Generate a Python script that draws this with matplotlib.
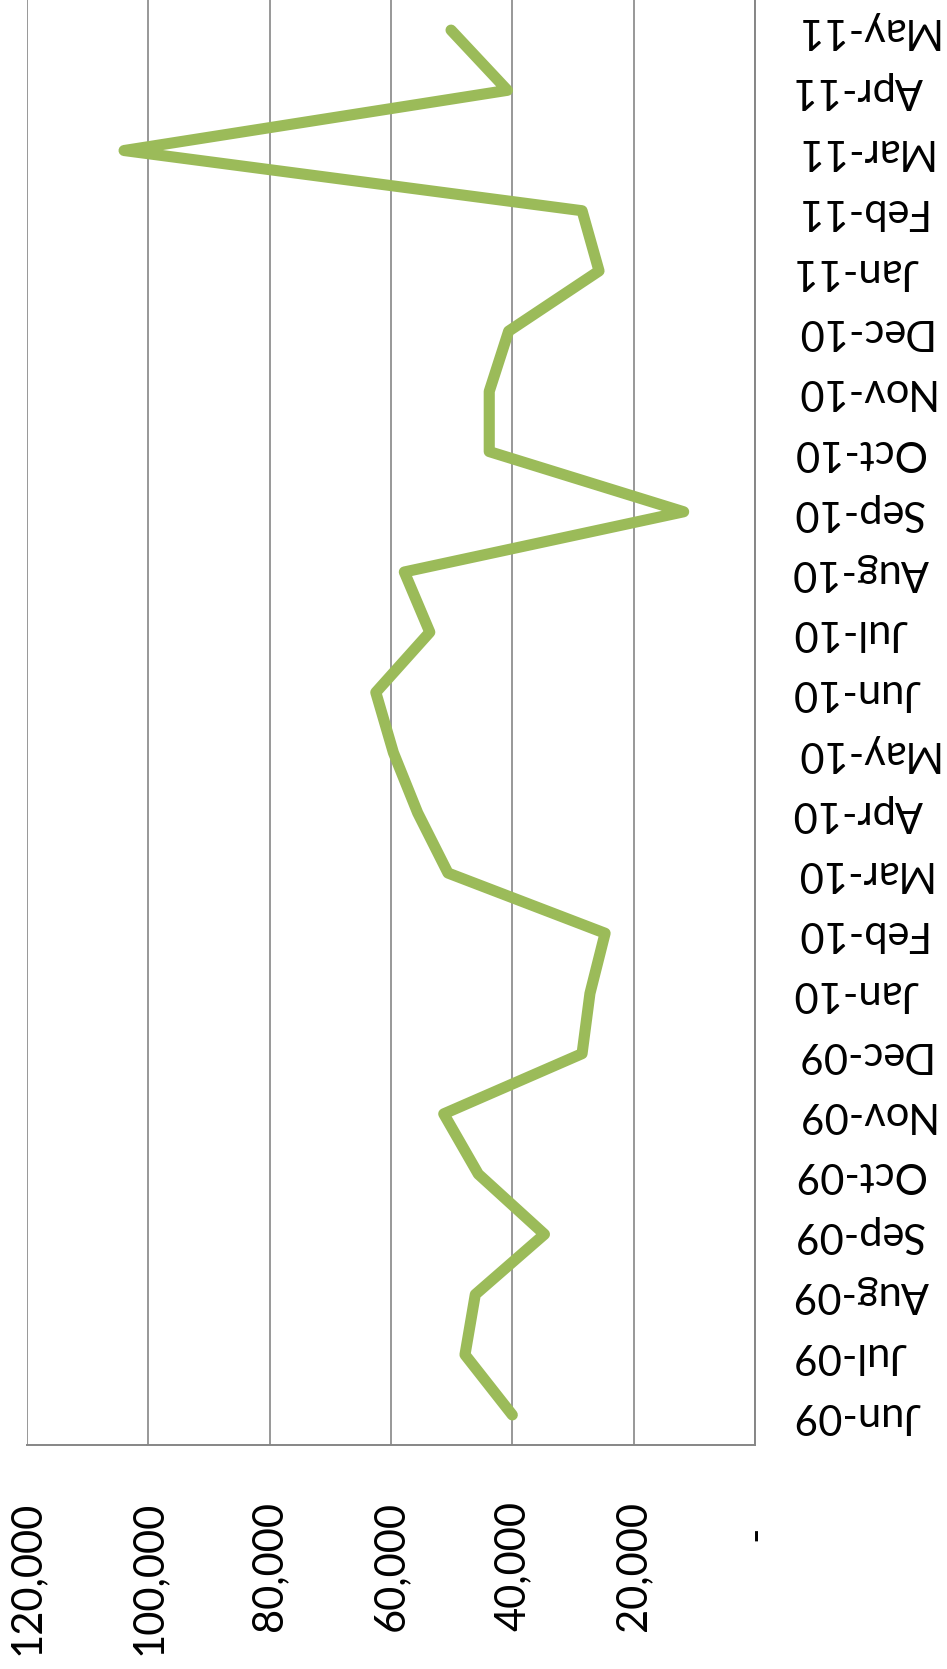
import matplotlib.pyplot as plt
from matplotlib.transforms import ScaledTranslation

# monthly values, Jun-09 .. May-11
months = ['Jun-09', 'Jul-09', 'Aug-09', 'Sep-09', 'Oct-09', 'Nov-09',
          'Dec-09', 'Jan-10', 'Feb-10', 'Mar-10', 'Apr-10', 'May-10',
          'Jun-10', 'Jul-10', 'Aug-10', 'Sep-10', 'Oct-10', 'Nov-10',
          'Dec-10', 'Jan-11', 'Feb-11', 'Mar-11', 'Apr-11', 'May-11']
values = [40000, 47800, 46100, 34700, 45600, 51300,
          28500, 27200, 24700, 50600, 55600, 59600,
          62500, 53600, 57800, 11750, 43800, 43800,
          40600, 25700, 28500, 104000, 40800, 50100]

value_ticks = [0, 20000, 40000, 60000, 80000, 100000, 120000]
value_labels = ['-', '20,000', '40,000', '60,000', '80,000', '100,000', '120,000']

plt.rcParams['font.family'] = ['Lato', 'DejaVu Sans']

fig = plt.figure(figsize=(9.47, 16.69), dpi=100)
ax = fig.add_axes([0.0285, 0.1342, 0.7687, 0.8658])

pos = list(range(len(months)))
ax.plot(values, pos, color='#9BBB59', lw=8,
        solid_joinstyle='round', solid_capstyle='round', zorder=3)

ax.set_xlim(120000, 0)
ax.set_ylim(-0.5, len(months) - 0.5)

ax.set_xticks(value_ticks)
ax.set_xticklabels(value_labels)
ax.set_yticks(pos)
ax.set_yticklabels(months)

ax.grid(axis='x', color='#868686', lw=1.2)
ax.set_axisbelow(True)

for side in ['top', 'left']:
    ax.spines[side].set_visible(False)
for side in ['bottom', 'right']:
    ax.spines[side].set_color('#868686')
    ax.spines[side].set_linewidth(1.4)

ax.yaxis.tick_right()
ax.tick_params(axis='y', length=0, pad=27, labelsize=30, labelrotation=180)
ax.tick_params(axis='x', length=0, pad=40, labelsize=30, labelrotation=90)
for lbl in ax.get_yticklabels():
    lbl.set_va('center')

# the zero label sits a bit further out (accounting format padding)
zero_lbl = ax.get_xticklabels()[0]
zero_lbl.set_transform(zero_lbl.get_transform() +
                       ScaledTranslation(0, -18 / 72, fig.dpi_scale_trans))

fig.savefig('out.png', dpi=100)
